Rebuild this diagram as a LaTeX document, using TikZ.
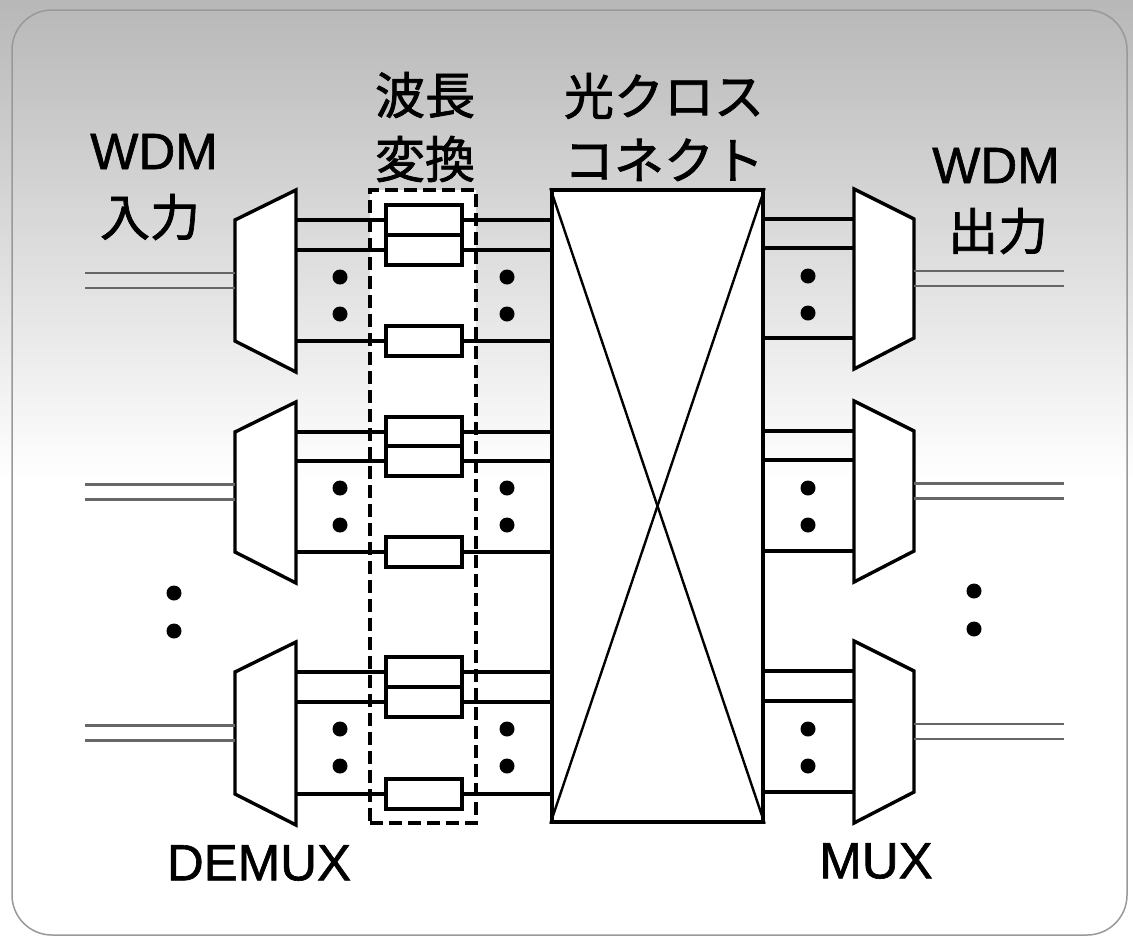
\documentclass[tikz,border=0pt]{standalone}
\usepackage{fontspec}
\setmainfont[FakeBold=1.2]{Liberation Sans}
\newfontfamily\jpfont[FakeBold=1.5]{Noto Sans CJK JP}
\newcommand\wdmgroup[7]{%
  % DEMUX side (left lines #2,#3,#4), MUX side (right lines #5,#6,#7)
  \coordinate (d#1a) at (296,#2);
  \coordinate (d#1b) at (296,#3);
  \coordinate (d#1c) at (296,#4);
  \node[conv] (c#1a) at (424,#2) {};
  \node[conv] (c#1b) at (424,#3) {};
  \node[conv] (c#1c) at (424,#4) {};
  \draw[wire] (d#1a) -- (c#1a.west);
  \draw[wire] (d#1b) -- (c#1b.west);
  \draw[wire] (d#1c) -- (c#1c.west);
  \draw[wire] (c#1a.east) -- (c#1a.east -| xc.west);
  \draw[wire] (c#1b.east) -- (c#1b.east -| xc.west);
  \draw[wire] (c#1c.east) -- (c#1c.east -| xc.west);
  \node[conv] at (c#1a) {};
  \node[conv] at (c#1b) {};
  \node[conv] at (c#1c) {};
  \draw[shp] (235,#2) -- (296,#2-30) -- (296,#4+31) -- (235,#4) -- cycle;
  \fill (340,#3+27) circle (7.5);
  \fill (340,#3+64) circle (7.5);
  \fill (507,#3+27) circle (7.5);
  \fill (507,#3+64) circle (7.5);
  \coordinate (inA#1) at (85,{(#2+#4)/2});
  \coordinate (inB#1) at (235,{(#2+#4)/2});
  \draw[fib] ([yshift=7.5pt]inA#1) -- ([yshift=7.5pt]inB#1);
  \draw[fib] ([yshift=-7.5pt]inA#1) -- ([yshift=-7.5pt]inB#1);
  \coordinate (m#1a) at (854,#5);
  \coordinate (m#1b) at (854,#6);
  \coordinate (m#1c) at (854,#7);
  \draw[wire] (m#1a -| xc.east) -- (m#1a);
  \draw[wire] (m#1b -| xc.east) -- (m#1b);
  \draw[wire] (m#1c -| xc.east) -- (m#1c);
  \draw[shp] (854,#5-30) -- (914,#5) -- (914,#7) -- (854,#7+31) -- cycle;
  \fill (808,#6+28) circle (7.5);
  \fill (808,#6+65) circle (7.5);
  \coordinate (outA#1) at (914,{(#5+#7)/2});
  \coordinate (outB#1) at (1064,{(#5+#7)/2});
  \draw[fib] ([yshift=7.5pt]outA#1) -- ([yshift=7.5pt]outB#1);
  \draw[fib] ([yshift=-7.5pt]outA#1) -- ([yshift=-7.5pt]outB#1);
}
\begin{document}
\begin{tikzpicture}[x=1pt,y=-1pt,
  shp/.style={draw=black, line width=3.4pt, fill=white, line join=miter},
  conv/.style={shp, minimum width=76pt, minimum height=30pt, inner sep=0pt},
  wire/.style={line width=3.4pt},
  fib/.style={draw=black!60, line width=2.4pt},
  diag/.style={line width=2.4pt},
  lat/.style={font=\fontsize{51}{60}\selectfont, inner sep=0pt},
  jp/.style={font=\jpfont\fontsize{50}{64}\selectfont, inner sep=0pt, align=center}]
\useasboundingbox (0,0) rectangle (1133,946);
% background
\shade[top color=black!28, bottom color=white] (0,0) rectangle (1133,480);
\fill[white] (0,480) rectangle (1133,946);
\draw[black!40, line width=1.5pt, rounded corners=40pt] (12,10) rectangle (1127,935);
% wavelength conversion region
\node[fill=white, draw=black, line width=3.2pt, dash pattern=on 13pt off 6pt,
      minimum width=106pt, minimum height=633pt, inner sep=0pt] (wlc) at (423,506.5) {};
% optical cross-connect
\node[shp, minimum width=211pt, minimum height=632pt, inner sep=0pt] (xc) at (657.5,506) {};
\draw[diag] (xc.north west) -- (xc.south east);
\draw[diag] (xc.north east) -- (xc.south west);
% groups
\wdmgroup{1}{220}{250}{341}{219}{248}{338}
\wdmgroup{2}{432}{461}{552}{431}{460}{551}
\wdmgroup{3}{672}{702}{794}{671}{701}{792}
% vertical ellipsis
\fill (174,593) circle (7.5);
\fill (174,631) circle (7.5);
\fill (974,591) circle (7.5);
\fill (974,629) circle (7.5);
% labels
\node[lat] (wdmin) at (154,151.5) {WDM};
\node[jp] (inlbl) at (150,217) {入力};
\node[lat] (wdmout) at (996,165.5) {WDM};
\node[jp] (outlbl) at (998,231) {出力};
\node[jp] (wlclbl) at (425,127) {波長\\変換};
\node[jp] (xclbl) at (664,127) {光クロス\\コネクト};
\node[lat] (demuxlbl) at (259,863) {DEMUX};
\node[lat] (muxlbl) at (876,861) {MUX};
\end{tikzpicture}
\end{document}
